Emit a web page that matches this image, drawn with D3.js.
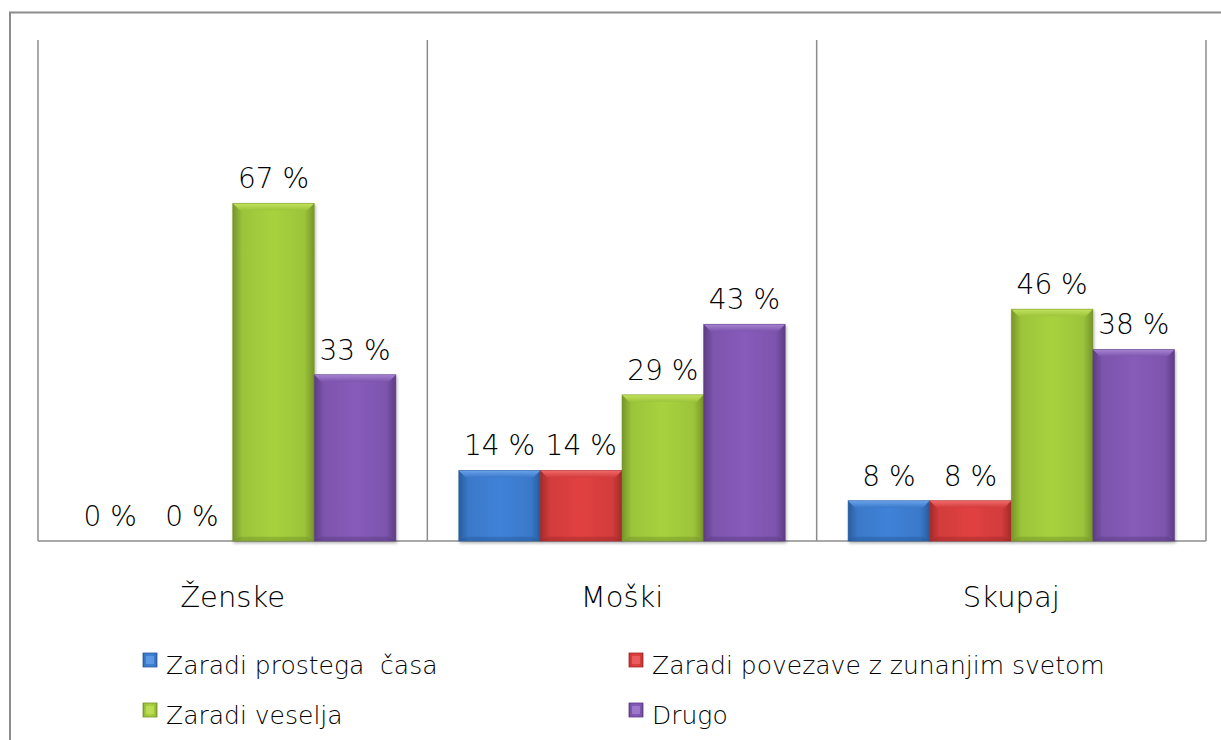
<!DOCTYPE html>
<html>
<head>
<meta charset="utf-8">
<script src="https://cdn.jsdelivr.net/npm/d3@7"></script>
<style>
  html, body { margin: 0; padding: 0; background: #fff; }
  svg { display: block; font-family: 'DejaVu Sans', sans-serif; }
</style>
</head>
<body>
<svg width="1221" height="740"></svg>
<script>
const categories = ['Ženske', 'Moški', 'Skupaj']
const seriesNames = ['Zaradi prostega  časa', 'Zaradi povezave z zunanjim svetom', 'Zaradi veselja', 'Drugo']
const prostiCas = [0, 14, 8]
const povezava = [0, 14, 8]
const veselje = [67, 29, 46]
const drugo = [33, 43, 38]
const seriesValues = [prostiCas, povezava, veselje, drugo]

const colors = [
  {base: '#3b79c9', light: '#6aa3ec', dark: '#285c9e'},
  {base: '#d23c3c', light: '#f26a6a', dark: '#a52a2a'},
  {base: '#9cc43a', light: '#c4e35e', dark: '#76952a'},
  {base: '#7d55ad', light: '#a684d3', dark: '#5c3d84'}
]

const svg = d3.select('svg')
const margin = {top: 40, left: 38, right: 1206, bottom: 541}

const x0 = d3.scaleBand().domain(d3.range(categories.length)).range([margin.left, margin.right])
const x1 = d3.scaleBand().domain(d3.range(seriesNames.length)).range([0, x0.bandwidth()]).paddingInner(0).paddingOuter(0.385)
const y = d3.scaleLinear().domain([0, 100]).range([margin.bottom, 37])

const defs = svg.append('defs')
defs.append('filter').attr('id', 'shadow').attr('x', '-10%').attr('y', '-10%').attr('width', '130%').attr('height', '130%')
  .append('feDropShadow').attr('dx', 1).attr('dy', 2).attr('stdDeviation', 1.5).attr('flood-color', '#000').attr('flood-opacity', 0.3)

colors.forEach((c, i) => {
  const g = defs.append('linearGradient').attr('id', 'grad' + i).attr('x1', 0).attr('x2', 1).attr('y1', 0).attr('y2', 0)
  g.append('stop').attr('offset', '0%').attr('stop-color', c.dark)
  g.append('stop').attr('offset', '12%').attr('stop-color', c.base)
  g.append('stop').attr('offset', '50%').attr('stop-color', d3.color(c.base).brighter(0.2))
  g.append('stop').attr('offset', '88%').attr('stop-color', c.base)
  g.append('stop').attr('offset', '100%').attr('stop-color', c.dark)
  const v = defs.append('linearGradient').attr('id', 'vgrad' + i).attr('x1', 0).attr('x2', 0).attr('y1', 0).attr('y2', 1)
  v.append('stop').attr('offset', '0%').attr('stop-color', c.light)
  v.append('stop').attr('offset', '100%').attr('stop-color', c.base)
})

// outer frame
svg.append('path')
  .attr('d', 'M10,745 L10,12.5 L1230,12.5')
  .attr('fill', 'none').attr('stroke', '#8c8c8c').attr('stroke-width', 2)

// category dividers and baseline
const grid = svg.append('g').attr('stroke', '#8c8c8c').attr('stroke-width', 1.5)
const edges = categories.map((c, i) => x0(i)).concat([margin.right])
grid.selectAll('line.v').data(edges).enter().append('line')
  .attr('x1', d => d).attr('x2', d => d)
  .attr('y1', margin.top).attr('y2', margin.bottom)
grid.append('line')
  .attr('x1', margin.left).attr('x2', margin.right)
  .attr('y1', margin.bottom).attr('y2', margin.bottom)

// bars
const bars = []
seriesValues.forEach((vals, s) => {
  vals.forEach((v, c) => bars.push({s, c, v}))
})

const bevel = 7
const barG = svg.append('g')
bars.filter(d => d.v > 0).forEach(d => {
  const bx = x0(d.c) + x1(d.s)
  const bw = x1.bandwidth()
  const top = y(d.v)
  const bottom = y(0)
  const col = colors[d.s]
  const g = barG.append('g').attr('filter', 'url(#shadow)')
  g.append('rect')
    .attr('x', bx).attr('y', top)
    .attr('width', bw).attr('height', bottom - top)
    .attr('fill', 'url(#grad' + d.s + ')')
  // top bevel
  g.append('polygon')
    .attr('points', [[bx, top], [bx + bw, top], [bx + bw - bevel, top + bevel], [bx + bevel, top + bevel]].join(' '))
    .attr('fill', 'url(#vgrad' + d.s + ')')
  // bottom bevel
  g.append('polygon')
    .attr('points', [[bx, bottom], [bx + bw, bottom], [bx + bw - bevel, bottom - bevel * 0.6], [bx + bevel, bottom - bevel * 0.6]].join(' '))
    .attr('fill', col.dark).attr('opacity', 0.5)
  g.append('rect')
    .attr('x', bx).attr('y', top)
    .attr('width', bw).attr('height', bottom - top)
    .attr('fill', 'none').attr('stroke', col.dark).attr('stroke-width', 0.8).attr('opacity', 0.6)
})

// value labels
svg.append('g').selectAll('text').data(bars).enter().append('text')
  .attr('x', d => x0(d.c) + x1(d.s) + x1.bandwidth() / 2)
  .attr('y', d => y(d.v) - 15)
  .attr('text-anchor', 'middle')
  .attr('font-size', 28)
  .attr('font-weight', 300)
  .attr('fill', '#000')
  .text(d => d.v + ' %')

// category labels
svg.append('g').selectAll('text').data(categories).enter().append('text')
  .attr('x', (d, i) => x0(i) + x0.bandwidth() / 2)
  .attr('y', 607)
  .attr('text-anchor', 'middle')
  .attr('font-size', 29)
  .attr('font-weight', 300)
  .attr('fill', '#000')
  .text(d => d)

// legend
const legendPos = [[143, 653], [629, 653], [143, 703], [629, 703]]
const legend = svg.append('g').selectAll('g').data(seriesNames).enter().append('g')
  .attr('transform', (d, i) => 'translate(' + legendPos[i][0] + ',' + legendPos[i][1] + ')')
legend.append('rect')
  .attr('width', 14).attr('height', 14)
  .attr('fill', (d, i) => 'url(#grad' + i + ')')
  .attr('stroke', (d, i) => colors[i].dark).attr('stroke-width', 0.8)
legend.append('rect')
  .attr('x', 3).attr('y', 3).attr('width', 8).attr('height', 8)
  .attr('fill', (d, i) => colors[i].light).attr('opacity', 0.7)
legend.append('text')
  .attr('x', 23).attr('y', 21)
  .attr('font-size', 25)
  .attr('font-weight', 300)
  .attr('fill', '#000')
  .attr('xml:space', 'preserve')
  .text(d => d)
</script>
</body>
</html>
